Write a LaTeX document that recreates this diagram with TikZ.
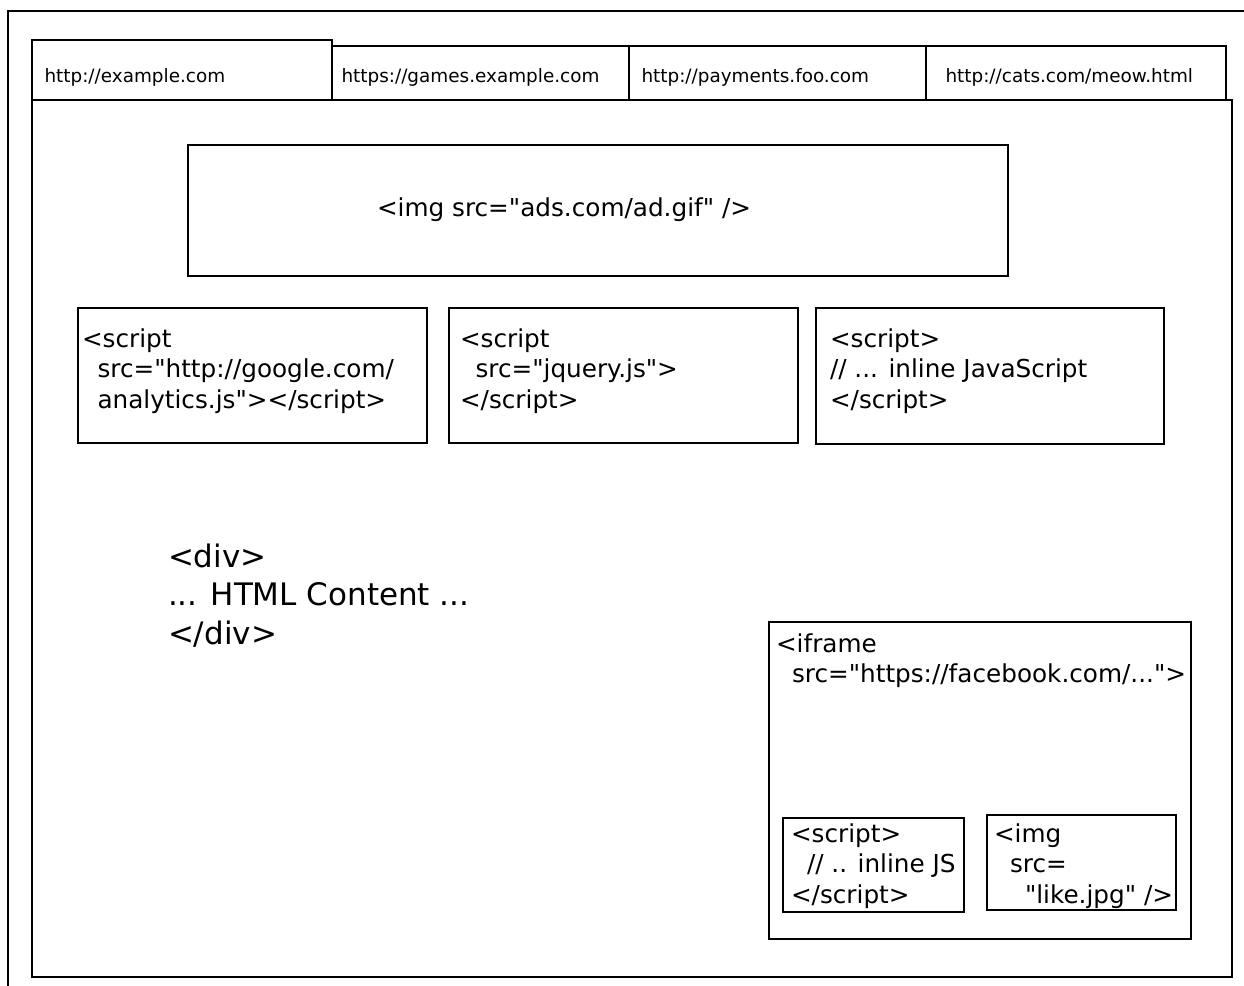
\documentclass[tikz,border=0pt]{standalone}
\usepackage{fontspec}
\setmainfont{DejaVu Sans}[Ligatures=TeXOff]
\usetikzlibrary{fit}
\newcommand{\codelines}[1]{\begin{tabular}[t]{@{}l@{}}#1\end{tabular}}
\begin{document}
\begin{tikzpicture}[x=1pt,y=-1pt,
  frame/.style={draw=black, line width=2pt, inner sep=0pt, outer sep=0pt},
  lbl/.style={anchor=base west, inner sep=0pt, outer sep=0pt},
  tabfont/.style={font=\fontsize{18.4}{22}\selectfont},
  boxfont/.style={font=\fontsize{24.7}{30.5}\selectfont},
  divfont/.style={font=\fontsize{31}{38.5}\selectfont}]
\useasboundingbox (0,0) rectangle (1244,985);
\fill[white] (0,0) rectangle (1244,985);
% outer window frame (cut by the picture edge)
\coordinate (o1) at (1250,11);
\coordinate (o2) at (8.3,11);
\coordinate (o3) at (8.3,990);
\draw[line width=2pt] (o1) -- (o2) -- (o3);
% page area
\node[frame, fit={(32.3,100) (1232.3,977)}] (page) {};
% tabs
\node[frame, fit={(32.3,40) (332.3,100)}] (tab1) {};
\node[frame, fit={(332.3,46) (629,100)}] (tab2) {};
\node[frame, fit={(629,46) (925.7,100)}] (tab3) {};
\node[frame, fit={(925.7,46) (1225.7,100)}] (tab4) {};
\node[lbl, tabfont] (tt1) at (44.5,82) {http://example.com};
\node[lbl, tabfont] (tt2) at (341.5,82) {https://games.example.com};
\node[lbl, tabfont] (tt3) at (641.5,82) {http://payments.foo.com};
\node[lbl, tabfont] (tt4) at (945.5,82) {http://cats.com/meow.html};
% ad image
\node[frame, fit={(187.7,145) (1008,275.7)}] (ad) {};
\node[lbl, boxfont] (adt) at (377,216) {<img src="ads.com/ad.gif" />};
% scripts
\node[frame, fit={(78,308) (427,443)}] (s1) {};
\node[lbl, boxfont] (s1t) at (82,347) {\codelines{<script\\\hspace*{15.5pt}src="http://google.com/\\\hspace*{15.5pt}analytics.js"></script>}};
\node[frame, fit={(449,308) (798,443)}] (s2) {};
\node[lbl, boxfont] (s2t) at (460,347) {\codelines{<script\\\hspace*{15.5pt}src="jquery.js">\\</script>}};
\node[frame, fit={(816,308) (1164,444)}] (s3) {};
\node[lbl, boxfont] (s3t) at (830,347) {\codelines{<script>\\// ... inline JavaScript\\</script>}};
% div content
\node[lbl, divfont] (divt) at (168,567) {\codelines{<div>\\... HTML Content ...\\</div>}};
% iframe
\node[frame, fit={(769,622) (1191,939)}] (ifr) {};
\node[lbl, boxfont] (ifrt) at (776,652) {\codelines{<iframe\\\hspace*{16pt}src="https://facebook.com/...">}};
\node[frame, fit={(783,818) (964,912)}] (is) {};
\node[lbl, boxfont] (ist) at (791,842) {\codelines{<script>\\\hspace*{16pt}// .. inline JS\\</script>}};
\node[frame, fit={(987,815) (1176,910)}] (ii) {};
\node[lbl, boxfont] (iit) at (994,842) {\codelines{<img\\\hspace*{16pt}src=\\\hspace*{31pt}"like.jpg" />}};
\end{tikzpicture}
\end{document}
